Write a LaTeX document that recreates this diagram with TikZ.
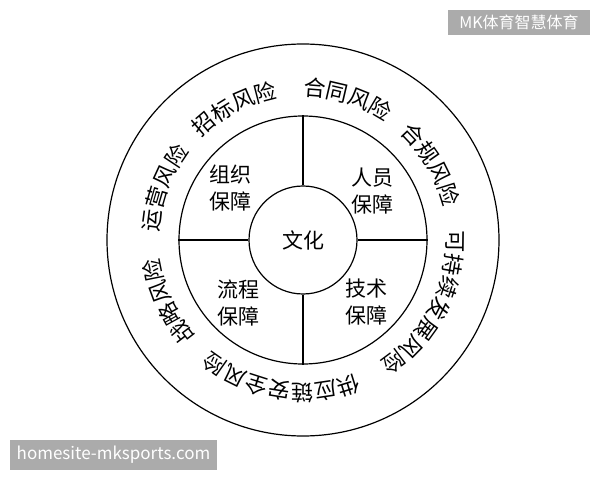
\documentclass[tikz,border=0pt]{standalone}
\usepackage{fontspec}
\setmainfont{Noto Sans CJK SC}
\usepackage{tikz}
\usetikzlibrary{decorations.text}
\newcommand\ringfont{\fontsize{22}{22}\selectfont}

\begin{document}
\begin{tikzpicture}[
    x=1pt, y=1pt,
    disc/.style={circle, draw, line width=1.2pt, inner sep=0pt},
    guard/.style={align=center, font=\fontsize{21}{27}\selectfont},
    risk/.style={decorate, decoration={text along path, text align=center, text={|\ringfont|#1}}},
    tag/.style={fill=black!33, text=white, inner sep=0pt}
]
\useasboundingbox (0,0) rectangle (600,480);
\coordinate (o) at (303,240);
\node[disc, minimum size=392pt] (outer) at (o) {};
\node[disc, minimum size=248pt] (ring) at (o) {};
\node[disc, minimum size=108pt, font=\fontsize{21}{21}\selectfont] (culture) at (o) {文化};

\draw[line width=1.2pt] (culture.north) -- (ring.north);
\draw[line width=1.2pt] (culture.south) -- (ring.south);
\draw[line width=1.2pt] (culture.west) -- (ring.west);
\draw[line width=1.2pt] (culture.east) -- (ring.east);

\node[guard] (org) at (230,292) {组织\\保障};
\node[guard] (staff) at (372,289) {人员\\保障};
\node[guard] (process) at (238,177) {流程\\保障};
\node[guard] (tech) at (366,178) {技术\\保障};

\path[risk=招标风险] ([shift={(155:144pt)}]o) arc[start angle=155, end angle=80, radius=144pt];
\path[risk=合同风险] ([shift={(110:144pt)}]o) arc[start angle=110, end angle=35, radius=144pt];
\path[risk=合规风险] ([shift={(68:144pt)}]o) arc[start angle=68, end angle=-7, radius=144pt];
\path[risk=可持续发展风险] ([shift={(23:144pt)}]o) arc[start angle=23, end angle=-77, radius=144pt];
\path[risk=供应链安全风险] ([shift={(-49:144pt)}]o) arc[start angle=-49, end angle=-149, radius=144pt];
\path[risk=战略风险] ([shift={(242:144pt)}]o) arc[start angle=242, end angle=167, radius=144pt];
\path[risk=运营风险] ([shift={(197:144pt)}]o) arc[start angle=197, end angle=122, radius=144pt];

\node[tag, minimum width=142pt, minimum height=25pt, font=\fontsize{16}{16}\selectfont] (brand) at (519,457.5) {MK体育智慧体育};
\node[tag, minimum width=207pt, minimum height=30pt, font=\fontsize{17}{17}\selectfont] (site) at (113.5,25) {homesite-mksports.com};
\end{tikzpicture}
\end{document}
